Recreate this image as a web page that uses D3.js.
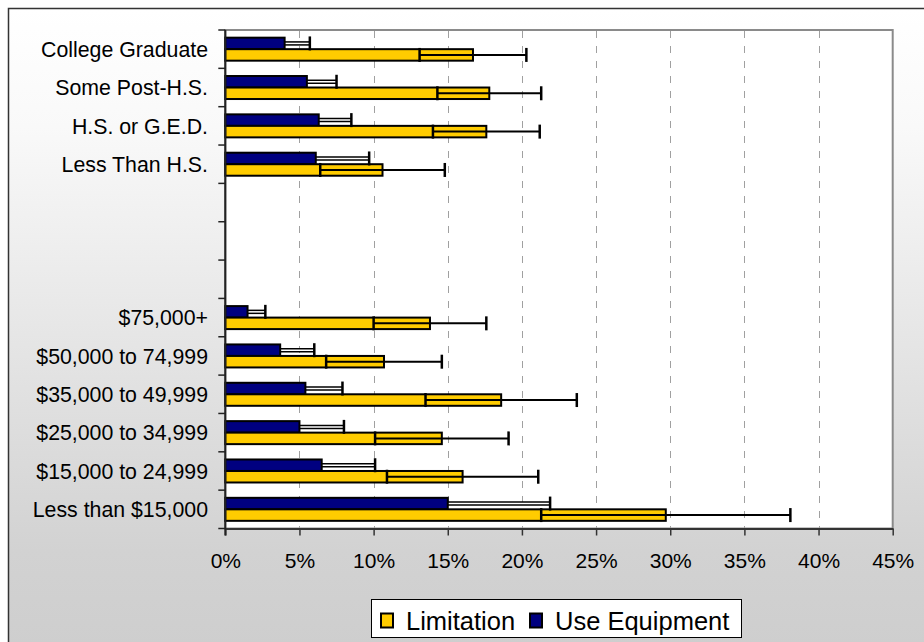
<!DOCTYPE html>
<html>
<head>
<meta charset="utf-8">
<script src="https://cdn.jsdelivr.net/npm/d3@7/dist/d3.min.js"></script>
<style>
  html, body { margin: 0; padding: 0; background: #fff; }
  svg { display: block; }
  text { font-family: "Liberation Sans", Arial, sans-serif; fill: #000; }
</style>
</head>
<body>
<svg id="chart" width="924" height="642"></svg>
<script>
// ---- data ----
const categories = ["College Graduate", "Some Post-H.S.", "H.S. or G.E.D.", "Less Than H.S.", "", "", "",
  "$75,000+", "$50,000 to 74,999", "$35,000 to 49,999", "$25,000 to 34,999", "$15,000 to 24,999", "Less than $15,000"];
const limitation    = [16.7, 17.8, 17.6, 10.6, null, null, null, 13.8, 10.7, 18.6, 14.6, 16.0, 29.7];
const limitationErr = [3.6, 3.5, 3.6, 4.2, null, null, null, 3.8, 3.9, 5.1, 4.5, 5.1, 8.4];
const useEquipment    = [4.0, 5.5, 6.3, 6.1, null, null, null, 1.5, 3.7, 5.4, 5.0, 6.5, 15.0];
const useEquipmentErr = [1.7, 2.0, 2.2, 3.6, null, null, null, 1.2, 2.3, 2.5, 3.0, 3.6, 6.9];
const xTicks = [0, 5, 10, 15, 20, 25, 30, 35, 40, 45];
const seriesNames = ["Use Equipment", "Limitation"];   // top-to-bottom order within a category
const legendNames = ["Limitation", "Use Equipment"];
const colors = { "Limitation": "#FFCC00", "Use Equipment": "#000080" };

const series = [
  { name: "Use Equipment", values: useEquipment, errs: useEquipmentErr },
  { name: "Limitation", values: limitation, errs: limitationErr }
];

// ---- layout ----
const svg = d3.select("#chart");
const W = 924, H = 642;
const plot = { left: 225.3, right: 892.7, top: 30, bottom: 528.5 };

// background gradient
const defs = svg.append("defs");
const grad = defs.append("linearGradient").attr("id", "bg").attr("x1", 0).attr("y1", 0).attr("x2", 0).attr("y2", 1);
grad.append("stop").attr("offset", "0%").attr("stop-color", "#ffffff");
grad.append("stop").attr("offset", "18%").attr("stop-color", "#f9f9f9");
grad.append("stop").attr("offset", "82%").attr("stop-color", "#d2d2d2");
grad.append("stop").attr("offset", "100%").attr("stop-color", "#cdcdcd");

svg.append("rect").attr("x", 0).attr("y", 0).attr("width", W).attr("height", H).attr("fill", "#fff");
svg.append("rect").attr("x", 8.5).attr("y", 8.5).attr("width", W + 20).attr("height", H + 20)
  .attr("fill", "url(#bg)").attr("stroke", "#333").attr("stroke-width", 1.5);

// scales
const x = d3.scaleLinear().domain([0, 45]).range([plot.left, plot.right]);
const y = d3.scaleBand().domain(d3.range(categories.length)).range([plot.top, plot.bottom]).padding(0);
const ySub = d3.scaleBand().domain(seriesNames).range([0, y.step()]).paddingInner(0).paddingOuter(0.667);

// plot area
svg.append("rect").attr("x", plot.left).attr("y", plot.top)
  .attr("width", plot.right - plot.left).attr("height", plot.bottom - plot.top)
  .attr("fill", "#fff").attr("stroke", "#8a8a8a").attr("stroke-width", 2);

// gridlines
svg.append("g").selectAll("line").data(xTicks.filter(t => t > 0 && t < 45)).join("line")
  .attr("x1", d => Math.round(x(d)) + 0.5).attr("x2", d => Math.round(x(d)) + 0.5)
  .attr("y1", plot.top + 1).attr("y2", plot.bottom)
  .attr("stroke", "#a0a0a0").attr("stroke-width", 1).attr("stroke-dasharray", "7,8");

// bars
const gBars = svg.append("g");
series.forEach(s => {
  const data = s.values.map((v, i) => ({ v, e: s.errs[i], i })).filter(d => d.v != null);
  gBars.selectAll(null).data(data).join("rect")
    .attr("x", x(0))
    .attr("y", d => y(d.i) + ySub(s.name))
    .attr("width", d => x(d.v) - x(0))
    .attr("height", ySub.bandwidth())
    .attr("fill", colors[s.name])
    .attr("stroke", "#000").attr("stroke-width", 2);
});

// error bars
const gErr = svg.append("g");
series.forEach(s => {
  const data = s.values.map((v, i) => ({ v, e: s.errs[i], i })).filter(d => d.v != null);
  const cy = d => y(d.i) + ySub(s.name) + ySub.bandwidth() / 2;
  const cap = 14;
  if (s.name === "Use Equipment") {
    // outlined segment outside the bar (minus side hidden inside the dark bar)
    gErr.selectAll(null).data(data).join("line")
      .attr("x1", d => x(d.v)).attr("x2", d => x(d.v + d.e))
      .attr("y1", cy).attr("y2", cy)
      .attr("stroke", "#000").attr("stroke-width", 4.5);
    gErr.selectAll(null).data(data).join("line")
      .attr("x1", d => x(d.v) + 1).attr("x2", d => x(d.v + d.e))
      .attr("y1", cy).attr("y2", cy)
      .attr("stroke", "#fff").attr("stroke-width", 1.5);
    gErr.selectAll(null).data(data).join("line")
      .attr("x1", d => x(d.v + d.e)).attr("x2", d => x(d.v + d.e))
      .attr("y1", d => cy(d) - cap / 2).attr("y2", d => cy(d) + cap / 2)
      .attr("stroke", "#000").attr("stroke-width", 2.5);
  } else {
    gErr.selectAll(null).data(data).join("line")
      .attr("x1", d => x(d.v - d.e)).attr("x2", d => x(d.v + d.e))
      .attr("y1", cy).attr("y2", cy)
      .attr("stroke", "#000").attr("stroke-width", 2);
    [-1, 1].forEach(sign => {
      gErr.selectAll(null).data(data).join("line")
        .attr("x1", d => x(d.v + sign * d.e)).attr("x2", d => x(d.v + sign * d.e))
        .attr("y1", d => cy(d) - cap / 2).attr("y2", d => cy(d) + cap / 2)
        .attr("stroke", "#000").attr("stroke-width", 2.5);
    });
  }
});

// axes
const xAxis = d3.axisBottom(x).tickValues(xTicks).tickFormat(d => d + "%").tickSize(7).tickSizeOuter(0);
const gx = svg.append("g").attr("transform", `translate(0,${plot.bottom})`).call(xAxis);
gx.select(".domain").attr("stroke", "#333").attr("stroke-width", 2);
gx.selectAll(".tick line").attr("stroke", "#333").attr("stroke-width", 1.5);
gx.selectAll(".tick text").attr("font-size", 21).attr("font-family", "Liberation Sans, Arial, sans-serif")
  .attr("fill", "#000").attr("dy", "1.4em");

// y axis: ticks at slot boundaries
const gy = svg.append("g");
gy.append("line").attr("x1", plot.left).attr("x2", plot.left).attr("y1", plot.top).attr("y2", plot.bottom + 7)
  .attr("stroke", "#222").attr("stroke-width", 2);
gy.selectAll("line.tk").data(d3.range(categories.length + 1)).join("line").attr("class", "tk")
  .attr("x1", plot.left - 7).attr("x2", plot.left)
  .attr("y1", d => plot.top + d * y.step()).attr("y2", d => plot.top + d * y.step())
  .attr("stroke", "#222").attr("stroke-width", 1.5);
gy.selectAll("text").data(d3.range(categories.length)).join("text")
  .attr("x", 208).attr("y", d => y(d) + y.bandwidth() / 2)
  .attr("dy", "0.36em").attr("text-anchor", "end").attr("font-size", 21.3)
  .text(d => categories[d]);

// legend
const lg = svg.append("g");
lg.append("rect").attr("x", 371.5).attr("y", 599.5).attr("width", 370).attr("height", 38)
  .attr("fill", "#fff").attr("stroke", "#000").attr("stroke-width", 1);
const legendX = { "Limitation": 381, "Use Equipment": 530 };
legendNames.forEach(n => {
  lg.append("rect").attr("x", legendX[n]).attr("y", 613.5).attr("width", 12).attr("height", 14)
    .attr("fill", colors[n]).attr("stroke", "#000").attr("stroke-width", 2);
  lg.append("text").attr("x", legendX[n] + 25).attr("y", 629.5).attr("font-size", 25.5).text(n);
});
</script>
</body>
</html>
